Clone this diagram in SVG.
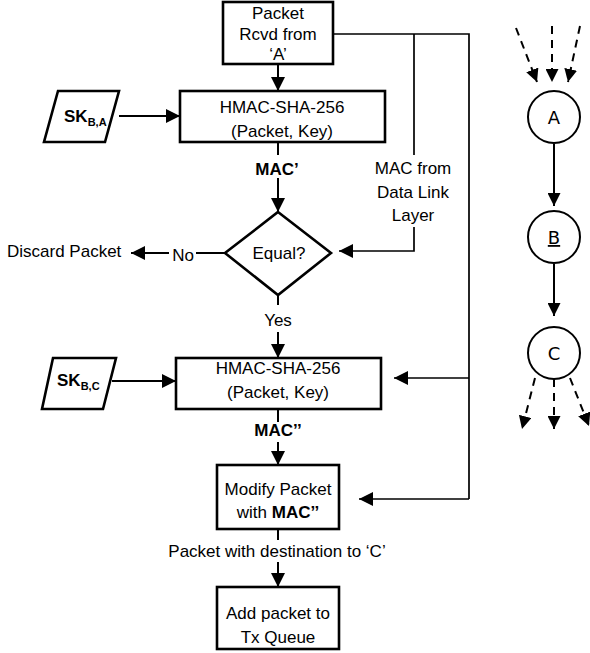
<svg xmlns="http://www.w3.org/2000/svg" width="590" height="653" viewBox="0 0 590 653">
<defs>
<marker id="ah" markerUnits="userSpaceOnUse" markerWidth="14" markerHeight="14" viewBox="0 0 12 12" refX="12" refY="6" orient="auto">
<path d="M0,0 L12,6 L0,12 Z" fill="#000"/>
</marker>
<marker id="ahs" markerUnits="userSpaceOnUse" markerWidth="13" markerHeight="13" viewBox="0 0 12 12" refX="12" refY="6" orient="auto">
<path d="M0,0 L12,6 L0,12 Z" fill="#000"/>
</marker>
<style>
text{font-family:"Liberation Sans",Arial,sans-serif;font-size:17px;fill:#000}
.c{text-anchor:middle}
.b{font-weight:bold}
.box{fill:#fff;stroke:#000;stroke-width:2.6}
.ln{fill:none;stroke:#000;stroke-width:2}
.thin{fill:none;stroke:#000;stroke-width:1.7}
.arr{marker-end:url(#ah)}
.circ{fill:#fff;stroke:#000;stroke-width:2}
.g{font-family:"DejaVu Sans",sans-serif;font-size:18px;text-anchor:middle}
.dash{fill:none;stroke:#000;stroke-width:2;stroke-dasharray:8,6;marker-end:url(#ahs)}
.solid{fill:none;stroke:#000;stroke-width:2;marker-end:url(#ahs)}
</style>
</defs>

<g id="connectors">
<line class="ln arr" x1="278" y1="64" x2="278" y2="91"/>
<line class="ln arr" x1="119" y1="116" x2="180" y2="116"/>
<line class="ln" x1="278" y1="142" x2="278" y2="155"/>
<line class="ln arr" x1="278" y1="178" x2="278" y2="212"/>
<line class="ln" x1="225" y1="253" x2="196" y2="253"/>
<line class="ln arr" x1="169" y1="253" x2="131" y2="253"/>
<line class="ln" x1="278" y1="295" x2="278" y2="305"/>
<line class="ln arr" x1="278" y1="332" x2="278" y2="358"/>
<line class="ln arr" x1="112" y1="381" x2="176" y2="381"/>
<line class="ln" x1="278" y1="409" x2="278" y2="422"/>
<line class="ln arr" x1="278" y1="442" x2="278" y2="465"/>
<line class="ln" x1="278" y1="529" x2="278" y2="540"/>
<line class="ln arr" x1="278" y1="562" x2="278" y2="587"/>
<polyline class="thin" points="333,34 469,34 469,499"/>
<line class="thin" x1="414" y1="34" x2="414" y2="155"/>
<polyline class="thin arr" points="414,227 414,251 339,251"/>
<line class="thin arr" x1="469" y1="378" x2="394" y2="378"/>
<line class="thin arr" x1="469" y1="499" x2="359" y2="499"/>

<line class="dash" x1="516" y1="28" x2="537" y2="82"/>
<line class="dash" x1="552" y1="26" x2="552" y2="82"/>
<line class="dash" x1="580" y1="26" x2="568" y2="82"/>
<line class="solid" x1="554" y1="144" x2="554" y2="206"/>
<line class="solid" x1="554" y1="264" x2="554" y2="316"/>
<line class="dash" x1="535" y1="378" x2="522" y2="429"/>
<line class="dash" x1="554" y1="379" x2="554" y2="429"/>
<line class="dash" x1="570" y1="378" x2="589" y2="426"/>
</g>

<g id="packet-rcvd">
<rect class="box" x="223" y="2" width="110" height="62"/>
<text class="c" x="278" y="19">Packet</text>
<text class="c" x="278" y="40">Rcvd from</text>
<text class="c" x="278" y="60">‘A’</text>
</g>

<g id="sk-ba">
<polygon class="box" points="58,91 119,91 105,142 44,142"/>
<text x="64" y="122" class="b">SK<tspan font-size="11" dy="4">B,A</tspan></text>
</g>

<g id="hmac1">
<rect class="box" x="180" y="91" width="205" height="51"/>
<text class="c" x="282" y="113">HMAC-SHA-256</text>
<text class="c" x="282" y="137">(Packet, Key)</text>
</g>

<g id="mac-prime-label">
<text class="c b" x="277" y="175">MAC’</text>
</g>

<g id="equal">
<polygon class="box" points="278,212 331,253 278,295 225,253"/>
<text class="c" x="279" y="259">Equal?</text>
</g>

<g id="no-label"><text class="c" x="183" y="261">No</text></g>
<g id="discard"><text x="7" y="257">Discard Packet</text></g>
<g id="yes-label"><text class="c" x="278" y="326">Yes</text></g>

<g id="mac-dll">
<text class="c" x="413" y="174">MAC from</text>
<text class="c" x="413" y="198">Data Link</text>
<text class="c" x="413" y="221">Layer</text>
</g>

<g id="sk-bc">
<polygon class="box" points="53,358 116,358 103,409 42,409"/>
<text x="57" y="386" class="b">SK<tspan font-size="11" dy="4">B,C</tspan></text>
</g>

<g id="hmac2">
<rect class="box" x="176" y="358" width="205" height="51"/>
<text class="c" x="278" y="374">HMAC-SHA-256</text>
<text class="c" x="278" y="398">(Packet, Key)</text>
</g>

<g id="mac-dprime-label"><text class="c b" x="278" y="436">MAC’’</text></g>

<g id="modify">
<rect class="box" x="217" y="465" width="122" height="64"/>
<text class="c" x="278" y="495">Modify Packet</text>
<text class="c" x="278" y="518">with <tspan class="b">MAC’’</tspan></text>
</g>

<g id="dest-label"><text class="c" x="277" y="557">Packet with destination to ‘C’</text></g>

<g id="add-queue">
<rect class="box" x="217" y="587" width="122" height="62"/>
<text class="c" x="278" y="619">Add packet to</text>
<text class="c" x="278" y="643">Tx Queue</text>
</g>

<g id="node-a">
<circle class="circ" cx="554" cy="117" r="26"/>
<text class="g" x="554" y="124">A</text>
</g>
<g id="node-b">
<circle class="circ" cx="554" cy="237" r="26"/>
<text class="g" x="554" y="244" text-decoration="underline">B</text>
</g>
<g id="node-c">
<circle class="circ" cx="554" cy="353" r="26"/>
<text class="g" x="554" y="360">C</text>
</g>
</svg>
